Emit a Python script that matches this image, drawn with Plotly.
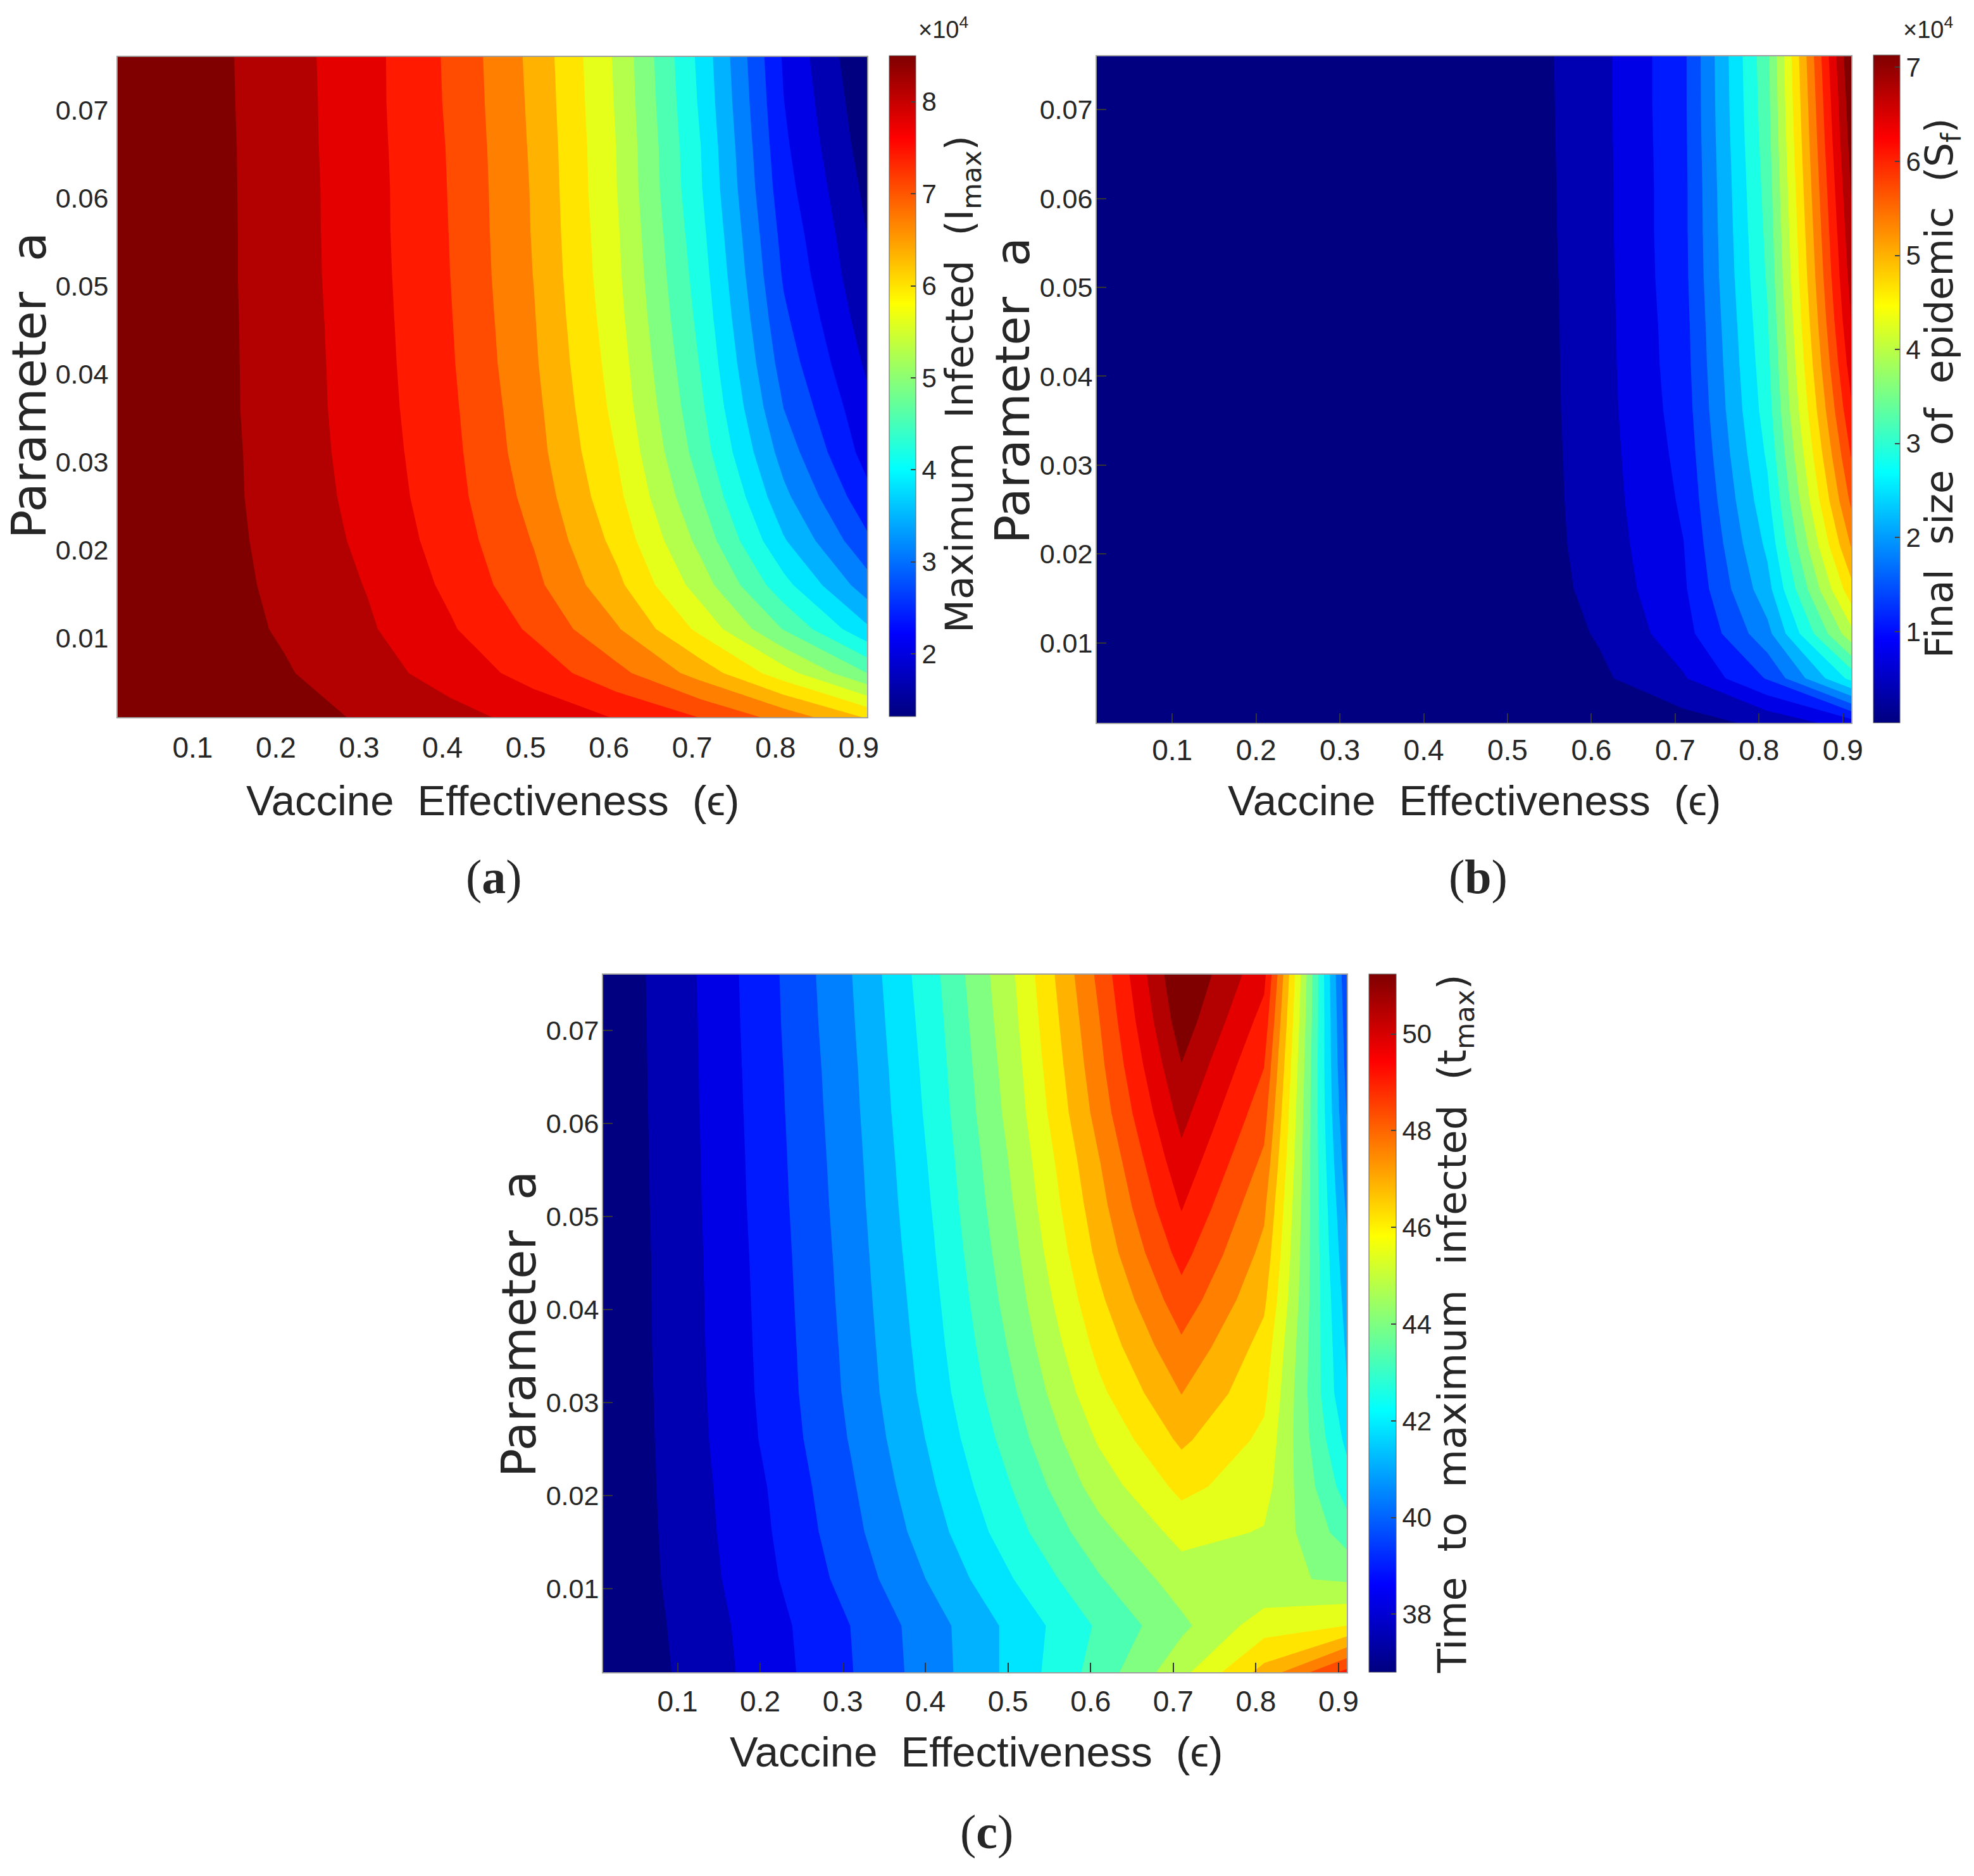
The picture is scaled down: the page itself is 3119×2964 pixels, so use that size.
import numpy as np
import plotly.graph_objects as go

# --- grid shared by the three panels ---
eps_vals = [0.01, 0.11, 0.21, 0.31, 0.41, 0.51, 0.61, 0.71, 0.81, 0.91]
a_vals = [0.001, 0.006, 0.011, 0.016, 0.021, 0.026, 0.031, 0.036,
          0.041, 0.046, 0.051, 0.056, 0.061, 0.066, 0.071, 0.076]

x_ticks = [0.1, 0.2, 0.3, 0.4, 0.5, 0.6, 0.7, 0.8, 0.9]
x_labels = ["0.1", "0.2", "0.3", "0.4", "0.5", "0.6", "0.7", "0.8", "0.9"]
y_ticks = [0.01, 0.02, 0.03, 0.04, 0.05, 0.06, 0.07]
y_labels = ["0.01", "0.02", "0.03", "0.04", "0.05", "0.06", "0.07"]

# one list per epsilon column, bottom row (a=0.001) first
# (a) maximum infected, x 10^4
imax_cols = [
    [8.50, 8.47, 8.45, 8.44, 8.43, 8.43, 8.42, 8.42, 8.42, 8.42, 8.42, 8.42, 8.42, 8.42, 8.42, 8.42],
    [8.45, 8.37, 8.33, 8.32, 8.31, 8.31, 8.31, 8.30, 8.30, 8.30, 8.30, 8.30, 8.30, 8.30, 8.29, 8.29],
    [8.30, 8.19, 8.12, 8.08, 8.05, 8.02, 8.01, 8.00, 7.996, 7.99, 7.98, 7.98, 7.975, 7.97, 7.97, 7.96],
    [8.11, 7.95, 7.86, 7.80, 7.74, 7.70, 7.67, 7.65, 7.64, 7.63, 7.62, 7.61, 7.61, 7.60, 7.59, 7.59],
    [7.92, 7.68, 7.51, 7.40, 7.32, 7.26, 7.23, 7.20, 7.17, 7.15, 7.13, 7.12, 7.11, 7.10, 7.08, 7.07],
    [7.71, 7.34, 7.07, 6.88, 6.77, 6.67, 6.59, 6.55, 6.50, 6.47, 6.44, 6.42, 6.41, 6.39, 6.37, 6.35],
    [7.45, 6.89, 6.48, 6.19, 6.00, 5.85, 5.75, 5.66, 5.60, 5.54, 5.49, 5.46, 5.42, 5.41, 5.38, 5.36],
    [7.12, 6.31, 5.68, 5.26, 4.98, 4.76, 4.58, 4.47, 4.38, 4.30, 4.23, 4.16, 4.09, 4.06, 4.00, 3.96],
    [6.66, 5.57, 4.72, 4.17, 3.75, 3.46, 3.23, 3.03, 2.88, 2.76, 2.65, 2.57, 2.48, 2.41, 2.35, 2.30],
    [6.07, 4.74, 3.78, 3.18, 2.76, 2.45, 2.21, 2.09, 1.95, 1.83, 1.73, 1.66, 1.58, 1.49, 1.42, 1.34],
]

# (b) final size of epidemic, x 10^4
sf_cols = [
    [0.03, 0.03, 0.03, 0.03, 0.03, 0.03, 0.03, 0.03, 0.03, 0.03, 0.03, 0.03, 0.03, 0.03, 0.03, 0.03],
    [0.03, 0.03, 0.03, 0.03, 0.03, 0.03, 0.03, 0.03, 0.03, 0.03, 0.03, 0.03, 0.03, 0.03, 0.03, 0.03],
    [0.03, 0.03, 0.03, 0.03, 0.03, 0.03, 0.03, 0.03, 0.04, 0.04, 0.04, 0.04, 0.04, 0.04, 0.04, 0.04],
    [0.03, 0.04, 0.04, 0.05, 0.05, 0.05, 0.05, 0.05, 0.05, 0.05, 0.06, 0.06, 0.06, 0.06, 0.06, 0.06],
    [0.04, 0.06, 0.07, 0.075, 0.08, 0.08, 0.08, 0.085, 0.085, 0.09, 0.09, 0.09, 0.095, 0.095, 0.10, 0.10],
    [0.047, 0.098, 0.115, 0.125, 0.13, 0.13, 0.135, 0.138, 0.14, 0.145, 0.148, 0.155, 0.158, 0.165, 0.169, 0.175],
    [0.098, 0.307, 0.40, 0.476, 0.517, 0.54, 0.55, 0.564, 0.571, 0.574, 0.58, 0.588, 0.591, 0.594, 0.598, 0.60],
    [0.226, 0.676, 0.90, 0.99, 1.037, 1.095, 1.145, 1.196, 1.23, 1.25, 1.28, 1.29, 1.29, 1.30, 1.31, 1.31],
    [0.45, 1.41, 1.95, 2.27, 2.47, 2.64, 2.78, 2.90, 2.97, 3.04, 3.11, 3.16, 3.21, 3.26, 3.30, 3.33],
    [0.875, 2.835, 3.97, 4.64, 5.13, 5.51, 5.79, 6.05, 6.27, 6.45, 6.59, 6.70, 6.81, 6.92, 7.02, 7.13],
]

# (c) time to maximum infected
tmax_cols = [
    [36.80, 36.83, 36.87, 36.87, 36.88, 36.88, 36.89, 36.90, 36.90, 36.90, 36.91, 36.92, 36.92, 36.93, 36.94, 36.94],
    [37.63, 37.68, 37.75, 37.79, 37.82, 37.85, 37.87, 37.89, 37.90, 37.91, 37.93, 37.94, 37.96, 37.97, 37.98, 38.00],
    [38.53, 38.58, 38.72, 38.81, 38.88, 39.00, 39.06, 39.09, 39.12, 39.15, 39.19, 39.22, 39.25, 39.28, 39.32, 39.34],
    [39.52, 39.56, 39.83, 40.02, 40.15, 40.29, 40.39, 40.44, 40.50, 40.55, 40.61, 40.66, 40.72, 40.77, 40.84, 40.90],
    [40.63, 40.67, 41.04, 41.34, 41.57, 41.76, 41.93, 42.04, 42.14, 42.25, 42.35, 42.44, 42.54, 42.62, 42.71, 42.81],
    [41.87, 41.86, 42.34, 42.77, 43.08, 43.39, 43.66, 43.88, 44.09, 44.26, 44.43, 44.57, 44.74, 44.85, 44.98, 45.09],
    [43.29, 43.09, 43.61, 44.13, 44.67, 45.13, 45.57, 45.94, 46.28, 46.60, 46.85, 47.08, 47.38, 47.59, 47.77, 47.97],
    [44.84, 44.21, 44.70, 45.29, 45.94, 46.56, 47.13, 47.66, 48.21, 48.73, 49.22, 49.66, 50.09, 50.51, 50.94, 51.24],
    [46.68, 45.40, 44.49, 45.00, 45.33, 45.58, 45.90, 46.17, 46.56, 46.91, 47.25, 47.66, 48.08, 48.49, 48.92, 49.37],
    [48.70, 45.74, 44.27, 43.34, 42.65, 42.12, 41.66, 41.51, 41.30, 41.06, 40.82, 40.51, 40.22, 40.00, 39.83, 39.62],
]

imax_range = [1.32, 8.50]
sf_range = [0.03, 7.13]
tmax_range = [36.8, 51.24]
imax_ticks = [2, 3, 4, 5, 6, 7, 8]
sf_ticks = [1, 2, 3, 4, 5, 6, 7]
tmax_ticks = [38, 40, 42, 44, 46, 48, 50]

# --- page ---
OFF = 8  # the browser's body margin
WIDTH = 3119 - 2 * OFF
HEIGHT = 2964 - 2 * OFF

SANS = "Liberation Sans, sans-serif"
WIDE = "DejaVu Sans, sans-serif"
SERIF = "Liberation Serif, serif"
TEXT = "#262626"
NB = "\u00a0"


def fx(px):
    return (px - OFF) / WIDTH


def fy(py):
    return 1 - (py - OFF) / HEIGHT


def jet(t):
    r = min(max(1.5 - abs(4 * t - 3), 0), 1)
    g = min(max(1.5 - abs(4 * t - 2), 0), 1)
    b = min(max(1.5 - abs(4 * t - 1), 0), 1)
    return f"rgb({round(r * 255)},{round(g * 255)},{round(b * 255)})"


# smooth scale for the colorbars
jet_smooth = [[i / 64, jet(i / 64)] for i in range(65)]
# 21 flat bands, plotly reads band k at k / 20
jet_bands = [[k / 20, jet(k / 20)] for k in range(21)]

panels = [
    dict(cols=imax_cols, rng=imax_range, ticks=imax_ticks, box=(186, 1370, 90, 1133),
         bar=(1405, 1447, 88, 1132), mirror_ticks=False, ystand=4, xstand=7),
    dict(cols=sf_cols, rng=sf_range, ticks=sf_ticks, box=(1733, 2925, 89, 1142),
         bar=(2960, 3002, 87, 1142), mirror_ticks=True, ystand=-4, xstand=2),
    dict(cols=tmax_cols, rng=tmax_range, ticks=tmax_ticks, box=(953, 2128, 1540, 2642),
         bar=(2163, 2206, 1539, 2642), mirror_ticks=True, ystand=-4, xstand=5),
]

fig = go.Figure()
layout_axes = {}

for i, p in enumerate(panels):
    suffix = "" if i == 0 else str(i + 1)
    z = np.array(p["cols"]).T
    step = (p["rng"][1] - p["rng"][0]) / 21
    x0, x1, y0, y1 = p["box"]
    bx0, bx1, by0, by1 = p["bar"]

    fig.add_trace(go.Contour(
        x=eps_vals, y=a_vals, z=z,
        xaxis="x" + suffix, yaxis="y" + suffix,
        autocontour=False,
        contours=dict(start=p["rng"][0] + step, end=p["rng"][0] + 20 * step, size=step,
                      coloring="fill", showlines=False),
        line=dict(width=0, smoothing=0),
        colorscale=jet_bands,
        showscale=False,
        hoverinfo="skip",
    ))

    # the colorbar is continuous in the original, so it gets its own empty trace
    fig.add_trace(go.Scatter(
        x=[None], y=[None], mode="markers",
        xaxis="x" + suffix, yaxis="y" + suffix,
        showlegend=False,
        marker=dict(
            color=[p["rng"][0]], colorscale=jet_smooth,
            cmin=p["rng"][0], cmax=p["rng"][1], showscale=True,
            colorbar=dict(
                x=fx(bx0), xanchor="left", xpad=0,
                y=fy(by1), yanchor="bottom", ypad=0,
                lenmode="pixels", len=by1 - by0,
                thicknessmode="pixels", thickness=bx1 - bx0,
                tickmode="array", tickvals=p["ticks"], ticktext=[str(t) for t in p["ticks"]],
                ticks="inside", ticklen=8, tickwidth=2, tickcolor="#404040",
                tickfont=dict(family=SANS, size=42, color=TEXT),
                outlinecolor="#606060", outlinewidth=1,
            ),
        ),
    ))

    tick_style = dict(ticks="inside", ticklen=15, tickwidth=2, tickcolor="#333333") if p["mirror_ticks"] else dict(ticks="")
    layout_axes["xaxis" + suffix] = dict(
        domain=[fx(x0), fx(x1)], anchor="y" + suffix, range=[0.01, 0.91],
        tickmode="array", tickvals=x_ticks, ticktext=x_labels,
        tickfont=dict(family=SANS, size=46, color=TEXT),
        ticklabelstandoff=p["xstand"],
        showgrid=False, zeroline=False,
        showline=True, mirror=True, linecolor="#a0a0a0", linewidth=2,
        **tick_style,
    )
    layout_axes["yaxis" + suffix] = dict(
        domain=[fy(y1), fy(y0)], anchor="x" + suffix, range=[0.001, 0.076],
        tickmode="array", tickvals=y_ticks, ticktext=y_labels,
        tickfont=dict(family=SANS, size=43, color=TEXT),
        ticklabelstandoff=p["ystand"],
        showgrid=False, zeroline=False,
        showline=True, mirror=True, linecolor="#a0a0a0", linewidth=2,
        **tick_style,
    )


def label(text, px, py, family, size, angle=0):
    return dict(text=text, x=fx(px), y=fy(py), xref="paper", yref="paper",
                xanchor="center", yanchor="middle", showarrow=False, textangle=angle,
                font=dict(family=family, size=size, color=TEXT))


x_title = f"Vaccine{NB}{NB}Effectiveness{NB}{NB}(ϵ)"
y_title = f"Parameter{NB}{NB}a"

annotations = [
    label(x_title, 778, 1264, SANS, 67),
    label(x_title, 2329, 1264, SANS, 67),
    label(x_title, 1542, 2767, SANS, 67),
    label(y_title, 46, 609, WIDE, 75, -90),
    label(y_title, 1600, 617, WIDE, 75, -90),
    label(y_title, 820, 2092, WIDE, 75, -90),
    label(f"Maximum{NB}{NB}Infected{NB}{NB}(I<sub>max</sub>)", 1520, 607, WIDE, 61, -90),
    label(f"Final{NB}{NB}size{NB}{NB}of{NB}{NB}epidemic{NB}{NB}(S<sub>f</sub>)", 3068, 613, WIDE, 61, -90),
    label(f"Time{NB}{NB}to{NB}{NB}maximum{NB}{NB}infected{NB}{NB}(t<sub>max</sub>)", 2298, 2092, WIDE, 62, -90),
    label("×10<sup>4</sup>", 1490, 44, SANS, 38),
    label("×10<sup>4</sup>", 3046, 44, SANS, 38),
    label("(<b>a</b>)", 780, 1385, SERIF, 76),
    label("(<b>b</b>)", 2335, 1385, SERIF, 76),
    label("(<b>c</b>)", 1559, 2894, SERIF, 76),
]

fig.update_layout(
    width=WIDTH, height=HEIGHT,
    margin=dict(l=0, r=0, t=0, b=0, autoexpand=False),
    paper_bgcolor="white", plot_bgcolor="white",
    showlegend=False,
    annotations=annotations,
    **layout_axes,
)

fig.write_html("out.html")
